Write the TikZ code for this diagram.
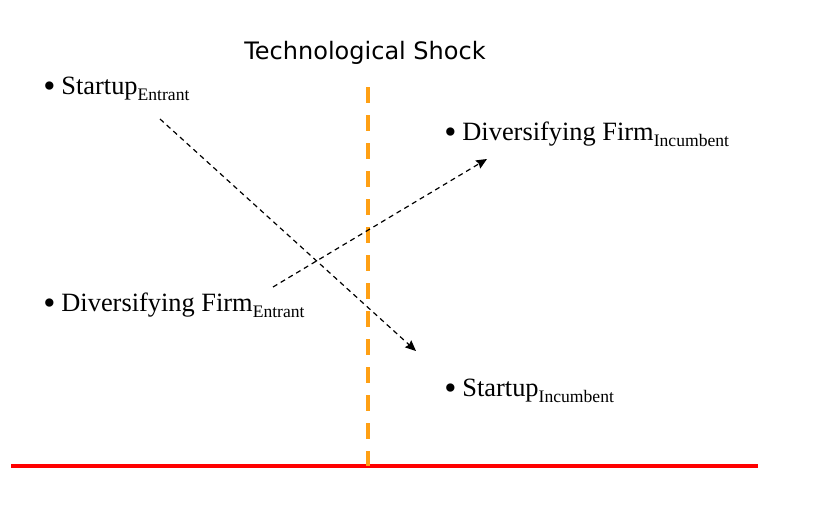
\documentclass[tikz,border=0pt]{standalone}
\usepackage{fontspec}
\usetikzlibrary{arrows.meta}
\setmainfont{Liberation Serif}
\newfontfamily\titlefont{DejaVu Sans}
\definecolor{shockorange}{RGB}{255,160,20}

% bullet label with a lowered tag
\newcommand{\firm}[2]{\raisebox{-2.5pt}{\fontsize{26}{26}\selectfont\textbullet}\hspace{4.5pt}#1\raisebox{-4.5pt}{\fontsize{13.2}{14}\selectfont #2}}

\begin{document}
\begin{tikzpicture}[x=0.75pt,y=-0.75pt]
	\tikzstyle{lbl}=[inner sep=0pt,anchor=base west,font=\fontsize{19.8}{22}\selectfont]
	\tikzstyle{move}=[line width=0.9pt,dash pattern=on 3.75pt off 3pt,-{Stealth[length=8pt,width=7pt,inset=1pt]}]
	\useasboundingbox (0,0) rectangle (838,529);
	% time axis and the shock
	\draw[red,line width=3pt] (11,466)--(758,466);
	\draw[shockorange,line width=3pt,dash pattern=on 12pt off 9pt] (368,87)--(368,466);
	\node[font=\titlefont\fontsize{18}{20}\selectfont] (shock) at (365,53) {Technological Shock};
	% firms before and after
	\node[lbl] (se) at (43,94) {\firm{Startup}{Entrant}};
	\node[lbl] (de) at (43,311) {\firm{Diversifying Firm}{Entrant}};
	\node[lbl] (di) at (444,140) {\firm{Diversifying Firm}{Incumbent}};
	\node[lbl] (si) at (444,396) {\firm{Startup}{Incumbent}};
	\coordinate (seout) at (160,119);
	\coordinate (siin) at (416,351);
	\coordinate (deout) at (273,287);
	\coordinate (diin) at (487,159);
	\draw[move] (seout)--(siin);
	\draw[move] (deout)--(diin);
\end{tikzpicture}
\end{document}
